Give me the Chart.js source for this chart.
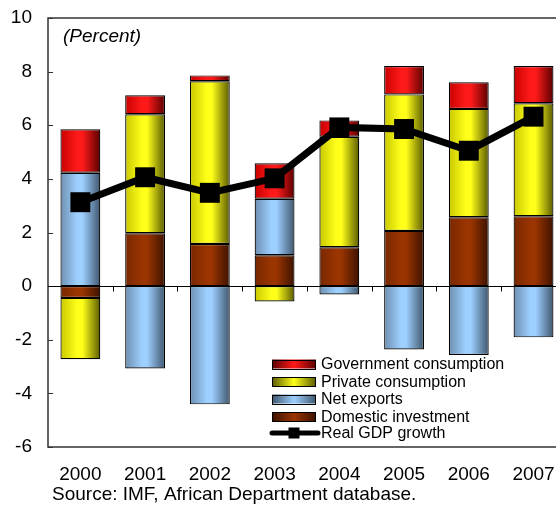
<!DOCTYPE html>
<html>
<head>
<meta charset="utf-8">
<script src="https://cdn.jsdelivr.net/npm/chart.js@4/dist/chart.umd.min.js"></script>
<style>
  html, body { margin: 0; padding: 0; background: #fff; overflow: hidden; }
  #wrap { width: 556px; height: 510px; overflow: hidden; }
  canvas { display: block; }
</style>
</head>
<body>
<div id="wrap"><canvas id="c" width="580" height="510"></canvas></div>
<script>
// Contributions to real GDP growth, percentage points
const years = ['2000', '2001', '2002', '2003', '2004', '2005', '2006', '2007'];
const domesticInvestment = [-0.44, 1.97, 1.57, 1.15, 1.45, 2.06, 2.57, 2.61];
const netExports = [4.23, -3.07, -4.41, 2.11, -0.31, -2.36, -2.57, -1.91];
const privateConsumption = [-2.29, 4.44, 6.07, -0.57, 4.12, 5.09, 4.04, 4.21];
const governmentConsumption = [1.62, 0.71, 0.22, 1.32, 0.61, 1.06, 0.99, 1.39];
const realGdpGrowth = [3.13, 4.06, 3.48, 4.02, 5.92, 5.86, 5.05, 6.32];
const yTicks = [-6, -4, -2, 0, 2, 4, 6, 8, 10];

const FONT = "'Liberation Sans', Arial, sans-serif";
const BAR_PCT = 40 / 65;

// shaded cylinder-like fill: [left, highlight, right]
const shades = {
  gov:   ['#c80000', '#ff1a1a', '#5a0000'],
  priv:  ['#c8c800', '#ffff1a', '#5a5a00'],
  net:   ['#6d8fb0', '#9dcfff', '#3f566d'],
  inv:   ['#782800', '#9a3400', '#3c1200']
};

function gradientFill(key) {
  const s = shades[key];
  return function (ctx) {
    const chart = ctx.chart;
    const xs = chart.scales.x;
    if (!chart.chartArea || !xs) return s[1];
    const xc = xs.getPixelForValue(ctx.dataIndex);
    const half = (xs.width / years.length) * BAR_PCT / 2;
    const g = chart.ctx.createLinearGradient(xc - half, 0, xc + half, 0);
    g.addColorStop(0, s[0]);
    g.addColorStop(0.42, s[1]);
    g.addColorStop(0.55, s[1]);
    g.addColorStop(1, s[2]);
    return g;
  };
}

function swatchFill(c, key, x, w) {
  const s = shades[key];
  const g = c.createLinearGradient(x, 0, x + w, 0);
  g.addColorStop(0, s[2]);
  g.addColorStop(0.5, s[1]);
  g.addColorStop(1, s[2]);
  return g;
}

const decor = {
  id: 'decor',
  afterDatasetsDraw(chart) {
    const c = chart.ctx;
    const a = chart.chartArea;
    const xs = chart.scales.x, ys = chart.scales.y;
    c.save();
    // plot frame
    c.strokeStyle = '#333';
    c.lineWidth = 1.5;
    c.strokeRect(a.left, a.top, a.right - a.left, a.bottom - a.top);
    // y ticks, inside
    c.lineWidth = 1;
    c.strokeStyle = '#333';
    yTicks.forEach(v => {
      const y = Math.round(ys.getPixelForValue(v)) + 0.5;
      c.beginPath(); c.moveTo(a.left, y); c.lineTo(a.left + 5, y); c.stroke();
    });
    // category axis through zero with tick marks between categories
    const y0 = Math.round(ys.getPixelForValue(0)) + 0.5;
    c.strokeStyle = '#000';
    c.beginPath(); c.moveTo(a.left, y0); c.lineTo(a.right, y0); c.stroke();
    const step = xs.width / years.length;
    for (let i = 1; i < years.length; i++) {
      const x = Math.round(a.left + i * step) + 0.5;
      c.beginPath(); c.moveTo(x, y0); c.lineTo(x, y0 + 5); c.stroke();
    }
    c.restore();
  },
  afterDraw(chart) {
    const c = chart.ctx;
    c.save();
    // unit note
    c.fillStyle = '#000';
    c.font = 'italic 19px ' + FONT;
    c.textBaseline = 'alphabetic';
    c.textAlign = 'left';
    c.fillText('(Percent)', 63, 42);

    // legend
    const ds = chart.data.datasets;
    const entries = [ds[3], ds[2], ds[1], ds[0], ds[4]];
    const sx = 272, sw = 44, sh = 9, tx = 321;
    const rowY = [364, 381.5, 399, 416.8, 433];
    c.font = '16px ' + FONT;
    c.textBaseline = 'middle';
    entries.forEach((d, i) => {
      const y = rowY[i];
      if (d.type === 'line') {
        c.strokeStyle = '#000';
        c.lineWidth = 5;
        c.lineCap = 'round';
        c.beginPath(); c.moveTo(sx, y); c.lineTo(sx + sw + 2, y); c.stroke();
        c.fillStyle = '#000';
        c.fillRect(sx + sw / 2 - 5.5, y - 5.5, 11, 11);
      } else {
        c.fillStyle = swatchFill(c, d.shadeKey, sx, sw);
        c.fillRect(sx, y - sh / 2, sw, sh);
        c.strokeStyle = '#000';
        c.lineWidth = 1;
        c.strokeRect(sx + 0.5, Math.round(y - sh / 2) + 0.5, sw - 1, sh);
      }
      c.fillStyle = '#000';
      c.fillText(d.label, tx, y + 1);
    });

    // source line
    c.font = '19px ' + FONT;
    c.textBaseline = 'alphabetic';
    c.fillText('Source: IMF, African Department database.', 52, 500);
    c.restore();
  }
};

function barSet(label, data, key) {
  return {
    type: 'bar',
    label: label,
    data: data,
    shadeKey: key,
    backgroundColor: gradientFill(key),
    borderColor: '#000',
    borderWidth: 1.2,
    borderSkipped: false,
    stack: 'gdp',
    order: 1,
    barPercentage: BAR_PCT,
    categoryPercentage: 1
  };
}

new Chart(document.getElementById('c'), {
  data: {
    labels: years,
    datasets: [
      barSet('Domestic investment', domesticInvestment, 'inv'),
      barSet('Net exports', netExports, 'net'),
      barSet('Private consumption', privateConsumption, 'priv'),
      barSet('Government consumption', governmentConsumption, 'gov'),
      {
        type: 'line',
        label: 'Real GDP growth',
        data: realGdpGrowth,
        borderColor: '#000',
        backgroundColor: '#000',
        borderWidth: 7,
        pointStyle: 'rect',
        pointRadius: 14.1,
        pointBorderWidth: 0,
        pointBackgroundColor: '#000',
        tension: 0,
        order: 0
      }
    ]
  },
  options: {
    responsive: false,
    animation: false,
    devicePixelRatio: 1,
    layout: { padding: { top: 18, right: 12, left: 0, bottom: 0 } },
    plugins: { legend: { display: false }, tooltip: { enabled: false } },
    scales: {
      x: {
        stacked: true,
        grid: { display: false, drawTicks: false },
        border: { display: false },
        ticks: { color: '#000', font: { family: FONT, size: 19 }, padding: 16, maxRotation: 0 },
        afterFit(s) { s.height = 63; s.paddingLeft = 0; s.paddingRight = 0; }
      },
      y: {
        stacked: true,
        min: -6,
        max: 10,
        grid: { display: false, drawTicks: false },
        border: { display: false },
        ticks: { stepSize: 2, color: '#000', font: { family: FONT, size: 19 }, padding: 16 },
        afterFit(s) { s.width = 48; s.paddingTop = 0; s.paddingBottom = 0; }
      }
    }
  },
  plugins: [decor]
});
</script>
</body>
</html>
